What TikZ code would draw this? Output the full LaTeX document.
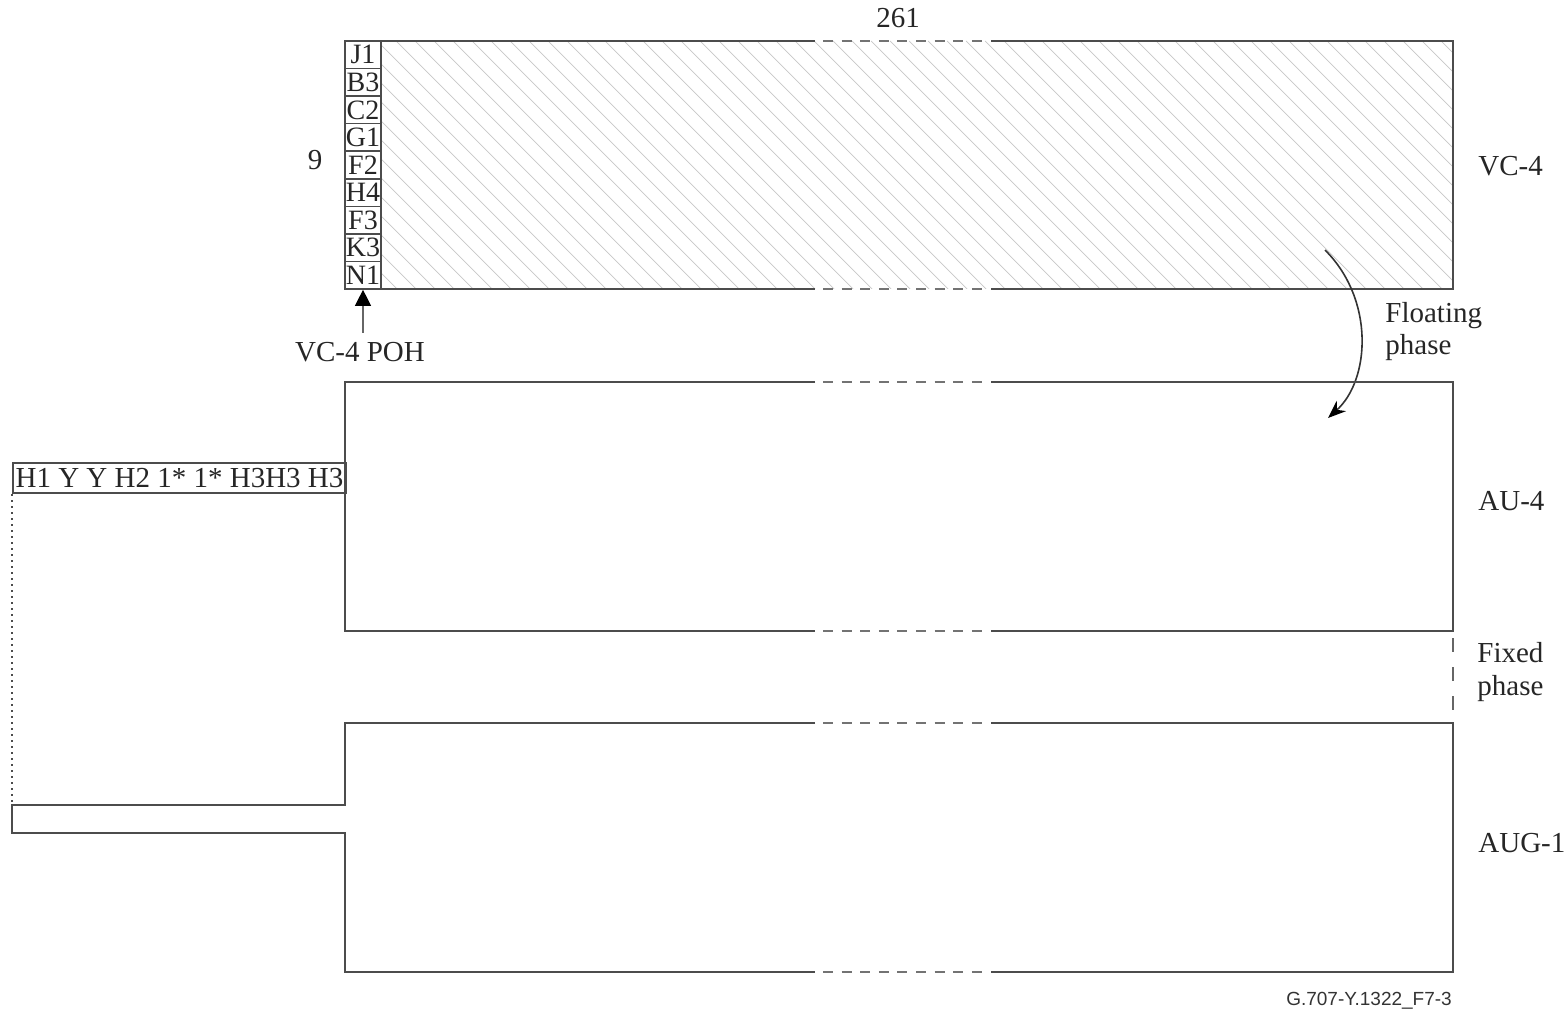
\documentclass[tikz,border=0pt]{standalone}
\usepackage{fontspec}
\setmainfont{Liberation Serif}
\newfontfamily\labelsans{Liberation Sans}
\usetikzlibrary{arrows.meta}
\begin{document}
\begin{tikzpicture}[x=0.5pt,y=-0.5pt,
 frame/.style={draw=black!70, line width=1pt},
 gapdash/.style={draw=black!55, line width=1pt, dash pattern=on 5pt off 4.3pt},
 hatch/.style={draw=black!22, line width=0.35pt},
 lbl/.style={inner sep=0pt, text=black!85, font=\fontsize{14.5}{16.5}\selectfont},
 cell/.style={draw=black!70, line width=0.8pt, minimum width=18pt, minimum height=13.78pt, inner sep=0pt, font=\fontsize{14}{14}\selectfont, text=black!85}]
\useasboundingbox (0,0) rectangle (1567,1010);
% hatching
\begin{scope}
\clip (381,41) rectangle (1453,289);
\foreach \k in {130,149,...,1460} \draw[hatch] (\k,41) -- ++(248,248);
\end{scope}
% VC-4 frame
\draw[frame] (815,41) -- (345,41) -- (345,289) -- (815,289);
\draw[frame] (991,41) -- (1453,41) -- (1453,289) -- (991,289);
\draw[gapdash] (823,41) -- (982,41);
\draw[gapdash] (823,289) -- (982,289);
% POH cells
\foreach \t [count=\i] in {J1,B3,C2,G1,F2,H4,F3,K3,N1}
  \node[cell] (r\i) at (363, {41+27.56*(\i-0.5)}) {\t};
% labels
\node[lbl, anchor=base] (n261) at (898,28) {261};
\node[lbl, anchor=base] (nine) at (315,170) {9};
\node[lbl, anchor=base west] (vc4) at (1478,176) {VC-4};
\node[lbl, anchor=base] (poh) at (360,362) {VC-4 POH};
\coordinate (pohtail) at (363,333);
\draw[line width=0.6pt, draw=black!60, -{Triangle[width=8pt,length=8pt,color=black]}] (pohtail) -- (r9.south);
% floating phase
\node[lbl, align=left, anchor=base west] (float) at (1385,355) {Floating\\phase};
\coordinate (fa) at (1325,250);
\coordinate (fb) at (1328,418);
\draw[line width=0.8pt, draw=black!80, -{Stealth[length=9pt,width=7pt,color=black]}] (fa) .. controls (1375,300) and (1370,380) .. (fb);
% AU-4
\draw[frame] (815,382) -- (345,382) -- (345,631) -- (815,631);
\draw[frame] (991,382) -- (1453,382) -- (1453,631) -- (991,631);
\draw[gapdash] (823,382) -- (982,382);
\draw[gapdash] (823,631) -- (982,631);
\node[lbl, anchor=base west] (au4) at (1478,510) {AU-4};
\node[frame, minimum width=166.5pt, minimum height=15pt, inner sep=0pt, anchor=north west, text=black!85, font=\fontsize{14.5}{16.5}\selectfont] (ptr) at (12,462) {H1 Y Y H2 1* 1* H3H3 H3};
% fixed phase
\draw[draw=black!60, line width=1pt, dash pattern=on 7pt off 7.5pt] (1453,638) -- (1453,710);
\node[lbl, align=left, anchor=base west] (fixed) at (1477,695) {Fixed\\phase};
% AUG-1
\coordinate (augtab) at (12,805);
\draw[frame] (815,723) -- (345,723) -- (345,805) -- (augtab) -- (12,833) -- (345,833) -- (345,972) -- (815,972);
\draw[frame] (991,723) -- (1453,723) -- (1453,972) -- (991,972);
\draw[gapdash] (823,723) -- (982,723);
\draw[gapdash] (823,972) -- (982,972);
\node[lbl, anchor=base west] (aug1) at (1478,852) {AUG-1};
\draw[draw=black!70, line width=0.8pt, dash pattern=on 1pt off 2pt] (ptr.south west) -- (augtab);
% footer
\node[inner sep=0pt, anchor=base, text=black!80, font=\labelsans\fontsize{9.5}{11}\selectfont] (fig) at (1369,1005) {G.707-Y.1322\_F7-3};
\end{tikzpicture}
\end{document}
